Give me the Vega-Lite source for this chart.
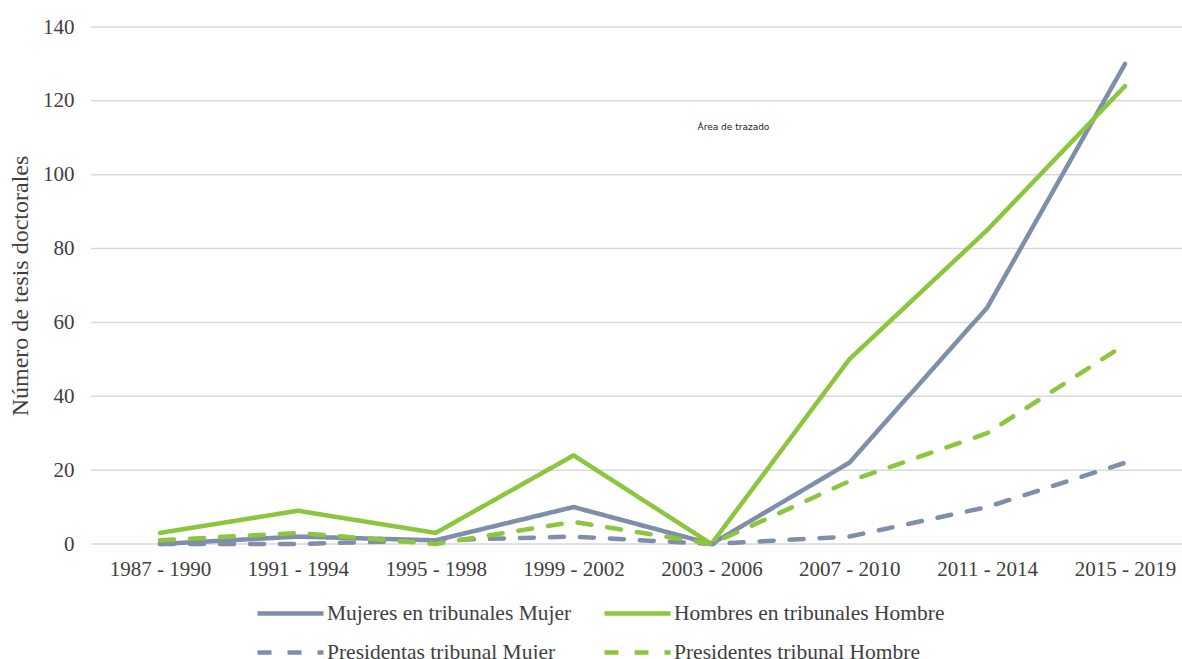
{
  "$schema": "https://vega.github.io/schema/vega-lite/v6.json",
  "autosize": {"type": "none"},
  "width": 1091,
  "height": 517,
  "padding": {"left": 91, "top": 27, "right": 0, "bottom": 115},
  "background": "white",
  "config": {
    "view": {"stroke": null},
    "font": "Liberation Serif"
  },
  "datasets": {
    "series": [
      {"periodo": "1987 - 1990", "serie": "Mujeres en tribunales Mujer", "valor": 0},
      {"periodo": "1991 - 1994", "serie": "Mujeres en tribunales Mujer", "valor": 2},
      {"periodo": "1995 - 1998", "serie": "Mujeres en tribunales Mujer", "valor": 1},
      {"periodo": "1999 - 2002", "serie": "Mujeres en tribunales Mujer", "valor": 10},
      {"periodo": "2003 - 2006", "serie": "Mujeres en tribunales Mujer", "valor": 0},
      {"periodo": "2007 - 2010", "serie": "Mujeres en tribunales Mujer", "valor": 22},
      {"periodo": "2011 - 2014", "serie": "Mujeres en tribunales Mujer", "valor": 64},
      {"periodo": "2015 - 2019", "serie": "Mujeres en tribunales Mujer", "valor": 130},
      {"periodo": "1987 - 1990", "serie": "Hombres en tribunales Hombre", "valor": 3},
      {"periodo": "1991 - 1994", "serie": "Hombres en tribunales Hombre", "valor": 9},
      {"periodo": "1995 - 1998", "serie": "Hombres en tribunales Hombre", "valor": 3},
      {"periodo": "1999 - 2002", "serie": "Hombres en tribunales Hombre", "valor": 24},
      {"periodo": "2003 - 2006", "serie": "Hombres en tribunales Hombre", "valor": 0},
      {"periodo": "2007 - 2010", "serie": "Hombres en tribunales Hombre", "valor": 50},
      {"periodo": "2011 - 2014", "serie": "Hombres en tribunales Hombre", "valor": 85},
      {"periodo": "2015 - 2019", "serie": "Hombres en tribunales Hombre", "valor": 124},
      {"periodo": "1987 - 1990", "serie": "Presidentas tribunal Mujer", "valor": 0},
      {"periodo": "1991 - 1994", "serie": "Presidentas tribunal Mujer", "valor": 0},
      {"periodo": "1995 - 1998", "serie": "Presidentas tribunal Mujer", "valor": 1},
      {"periodo": "1999 - 2002", "serie": "Presidentas tribunal Mujer", "valor": 2},
      {"periodo": "2003 - 2006", "serie": "Presidentas tribunal Mujer", "valor": 0},
      {"periodo": "2007 - 2010", "serie": "Presidentas tribunal Mujer", "valor": 2},
      {"periodo": "2011 - 2014", "serie": "Presidentas tribunal Mujer", "valor": 10},
      {"periodo": "2015 - 2019", "serie": "Presidentas tribunal Mujer", "valor": 22},
      {"periodo": "1987 - 1990", "serie": "Presidentes tribunal Hombre", "valor": 1},
      {"periodo": "1991 - 1994", "serie": "Presidentes tribunal Hombre", "valor": 3},
      {"periodo": "1995 - 1998", "serie": "Presidentes tribunal Hombre", "valor": 0},
      {"periodo": "1999 - 2002", "serie": "Presidentes tribunal Hombre", "valor": 6},
      {"periodo": "2003 - 2006", "serie": "Presidentes tribunal Hombre", "valor": 0},
      {"periodo": "2007 - 2010", "serie": "Presidentes tribunal Hombre", "valor": 17},
      {"periodo": "2011 - 2014", "serie": "Presidentes tribunal Hombre", "valor": 30},
      {"periodo": "2015 - 2019", "serie": "Presidentes tribunal Hombre", "valor": 54}
    ],
    "rejilla": [
      {"valor": 0}, {"valor": 20}, {"valor": 40}, {"valor": 60},
      {"valor": 80}, {"valor": 100}, {"valor": 120}, {"valor": 140}
    ],
    "nota": [
      {"periodo": "2003 - 2006", "valor": 113, "texto": "Área de trazado"}
    ]
  },
  "layer": [
    {
      "data": {"name": "rejilla"},
      "mark": {"type": "rule", "color": "#d9d9d9", "strokeWidth": 1.5},
      "encoding": {
        "y": {"field": "valor", "type": "quantitative"}
      }
    },
    {
      "data": {"name": "series"},
      "mark": {"type": "line", "strokeWidth": 4.5, "strokeCap": "round", "strokeJoin": "round"},
      "encoding": {
        "x": {
          "field": "periodo",
          "type": "ordinal",
          "sort": null,
          "scale": {"type": "point", "range": [69, 1034], "padding": 0},
          "axis": {
            "title": null,
            "grid": false,
            "domain": false,
            "ticks": false,
            "labelAngle": 0,
            "labelFontSize": 21,
            "labelColor": "#404040",
            "labelPadding": 14,
            "labelFont": "Liberation Serif"
          }
        },
        "y": {
          "field": "valor",
          "type": "quantitative",
          "scale": {"domain": [0, 140], "nice": false},
          "axis": {
            "title": "Número de tesis doctorales",
            "titleFontSize": 24,
            "titleFontWeight": "normal",
            "titleColor": "#404040",
            "titlePadding": 10,
            "titleFont": "Liberation Serif",
            "values": [0, 20, 40, 60, 80, 100, 120, 140],
            "grid": false,
            "domain": false,
            "ticks": false,
            "labelFontSize": 21,
            "labelColor": "#404040",
            "labelPadding": 17,
            "labelFont": "Liberation Serif"
          }
        },
        "color": {
          "field": "serie",
          "type": "nominal",
          "sort": ["Mujeres en tribunales Mujer", "Hombres en tribunales Hombre", "Presidentas tribunal Mujer", "Presidentes tribunal Hombre"],
          "scale": {
            "domain": ["Mujeres en tribunales Mujer", "Hombres en tribunales Hombre", "Presidentas tribunal Mujer", "Presidentes tribunal Hombre"],
            "range": ["#7f8ea9", "#8cc63f", "#7f8ea9", "#8cc63f"]
          },
          "legend": {
            "title": null,
            "orient": "none",
            "legendX": 186,
            "legendY": 573,
            "direction": "horizontal",
            "columns": 2,
            "columnPadding": 23,
            "rowPadding": 15,
            "symbolType": "M-3,0H3",
            "symbolSize": 484,
            "symbolStrokeWidth": 4.5,
            "symbolFillColor": "transparent",
            "labelFontSize": 21.5,
            "labelColor": "#404040",
            "labelFont": "Liberation Serif",
            "labelOffset": 23,
            "labelLimit": 400
          }
        },
        "strokeDash": {
          "field": "serie",
          "type": "nominal",
          "sort": ["Mujeres en tribunales Mujer", "Hombres en tribunales Hombre", "Presidentas tribunal Mujer", "Presidentes tribunal Hombre"],
          "scale": {
            "domain": ["Mujeres en tribunales Mujer", "Hombres en tribunales Hombre", "Presidentas tribunal Mujer", "Presidentes tribunal Hombre"],
            "range": [[1, 0], [1, 0], [14, 16], [14, 16]]
          }
        }
      }
    },
    {
      "data": {"name": "nota"},
      "mark": {"type": "text", "font": "DejaVu Sans", "fontSize": 9, "color": "#222222", "dx": 22},
      "encoding": {
        "x": {"field": "periodo", "type": "ordinal", "sort": null},
        "y": {"field": "valor", "type": "quantitative"},
        "text": {"field": "texto"}
      }
    }
  ]
}
